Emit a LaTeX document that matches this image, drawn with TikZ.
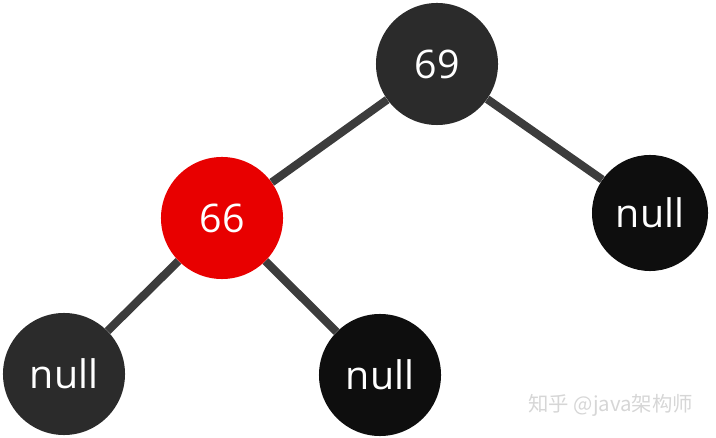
\documentclass[tikz,border=0pt]{standalone}
\usepackage{fontspec}
\setmainfont{Open Sans}
\newfontfamily\cjk{Noto Sans CJK SC}
\usetikzlibrary{positioning}

\definecolor{nodegray}{HTML}{2B2B2B}
\definecolor{nodeblack}{HTML}{0E0E0E}
\definecolor{nodered}{HTML}{E80000}
\definecolor{edgegray}{HTML}{3C3C3C}
\definecolor{markgray}{HTML}{D6D6D6}

\begin{document}
\begin{tikzpicture}[
    x=0.025cm, y=-0.025cm,
    rbnode/.style={circle, minimum size=3.05cm, inner sep=0pt, text=white, font=\fontsize{28}{30}\selectfont},
    edge/.style={draw=edgegray, line width=5.8pt}
]
\useasboundingbox (0,0) rectangle (716,438);

\node[rbnode, fill=nodegray] (n69) at (437,64) {69};
\node[rbnode, fill=nodered] (n66) at (222,218) {66};
\node[rbnode, fill=nodeblack, minimum size=2.9cm] (nr) at (650,213) {null};
\node[rbnode, fill=nodegray] (nl) at (64,374) {null};
\node[rbnode, fill=nodeblack] (nm) at (380,375) {null};

% connectors
\draw[edge] (n69) -- (n66);
\draw[edge] (n69) -- (nr);
\draw[edge] (n66) -- (nl);
\draw[edge] (n66) -- (nm);

\node[text=markgray, font=\cjk\fontsize{14.5}{16}\selectfont, anchor=east] (mark) at (698,405) {知乎 @java架构师};
\end{tikzpicture}
\end{document}
